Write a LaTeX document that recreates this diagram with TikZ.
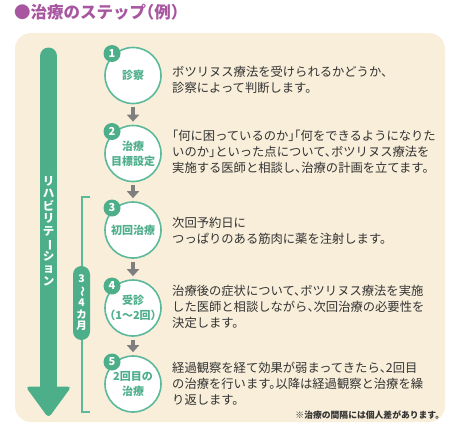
\documentclass[tikz,border=0pt]{standalone}
\usepackage{fontspec}
\usepackage{graphicx}
\setmainfont{Noto Sans CJK JP}
\newfontfamily\jph{Noto Sans CJK JP}[RawFeature=+halt]
\usetikzlibrary{arrows.meta}
\definecolor{bgcream}{HTML}{F8EEDA}
\definecolor{arrowgreen}{HTML}{4DAE8A}
\definecolor{ringgreen}{HTML}{5CBA9A}
\definecolor{labelgreen}{HTML}{4FAF8C}
\definecolor{arrowgray}{HTML}{7F7F7F}
\definecolor{bodytext}{HTML}{333333}
\definecolor{titlepurple}{HTML}{A7569F}
\tikzset{
  stepcircle/.style={circle,draw=ringgreen,line width=1.6pt,fill=white,minimum size=56pt,inner sep=0pt,
    align=center,text=labelgreen,font=\jph\bfseries\fontsize{11}{15}\selectfont},
  stepnum/.style={circle,fill=arrowgreen,minimum size=17pt,inner sep=0pt,text=white,
    font=\bfseries\fontsize{11}{11}\selectfont},
  steptext/.style={anchor=west,align=left,text=bodytext,inner sep=0pt,
    font=\jph\fontsize{12.3}{16}\selectfont},
  steparrow/.style={draw=arrowgray,line width=3.5pt,-{Triangle[width=12pt,length=7pt]}},
  bracketline/.style={draw=ringgreen,line width=1.2pt},
}
\newcommand{\vbar}{\rotatebox[origin=c]{-90}{ー}}
\newcommand{\vwave}{\rotatebox[origin=c]{-90}{〜}}
\begin{document}
\begin{tikzpicture}[x=1pt,y=-1pt]
\useasboundingbox (0,0) rectangle (454,431);
% title and background
\node[anchor=west,inner sep=0pt,text=titlepurple,font=\jph\bfseries\fontsize{16.5}{16.5}\selectfont] (title) at (14,12) {●治療のステップ（例）};
\fill[bgcream,rounded corners=16pt] (15,33) rectangle (445,422);
% big arrow on the left
\draw[arrowgreen,line width=17pt,line cap=round] (48.5,56) -- (48.5,392);
\fill[arrowgreen,rounded corners=4pt] (25.5,386.5) -- (71.5,386.5) -- (48.5,418) -- cycle;
\node[text=white,align=center,inner sep=0pt,font=\bfseries\fontsize{11.5}{12.5}\selectfont] (rehab) at (48.5,231)
  {リ\\ハ\\ビ\\リ\\テ\\\vbar\\シ\\ョ\\ン};
% 3-4 months bracket
\draw[bracketline] (90,197) -- (82,197) -- (82,412) -- (90,412);
\node[fill=arrowgreen,rounded corners=8.5pt,minimum width=17pt,minimum height=74pt,inner sep=0pt,
  text=white,align=center,font=\bfseries\fontsize{10.5}{11.8}\selectfont] (months) at (81.5,303)
  {3\\\vwave\\4\\カ\\月};
% steps
\node[stepcircle] (c1) at (133,75.5) {診察};
\node[stepcircle] (c2) at (133,153.5) {治療\\目標設定};
\node[stepcircle] (c3) at (133,230) {初回治療};
\node[stepcircle] (c4) at (133,308) {受診\\（1〜2回）};
\node[stepcircle] (c5) at (133,384) {2回目の\\治療};
\foreach \i in {1,...,5}
  \node[stepnum] (n\i) at ([shift={(-21,-22)}]c\i) {\i};
\foreach \a/\b in {c1/c2,c2/c3,c3/c4,c4/c5}
  \draw[steparrow] ([yshift=-3pt]\a.south) -- ([yshift=3pt]\b.north);
% texts
\node[steptext] (t1) at (172,80) {ボツリヌス療法を受けられるかどうか、\\診察によって判断します。};
\node[steptext] (t2) at (172,152) {「何に困っているのか」「何をできるようになりた\\いのか」といった点について、ボツリヌス療法を\\実施する医師と相談し、治療の計画を立てます。};
\node[steptext] (t3) at (172,231) {次回予約日に\\つっぱりのある筋肉に薬を注射します。};
\node[steptext] (t4) at (172,307) {治療後の症状について、ボツリヌス療法を実施\\した医師と相談しながら、次回治療の必要性を\\決定します。};
\node[steptext] (t5) at (172,384) {経過観察を経て効果が弱まってきたら、2回目\\の治療を行います。以降は経過観察と治療を繰\\り返します。};
\node[anchor=east,inner sep=0pt,text=bodytext,font=\jph\bfseries\fontsize{8.8}{8.8}\selectfont] (note) at (440,415) {※治療の間隔には個人差があります。};
\end{tikzpicture}
\end{document}
